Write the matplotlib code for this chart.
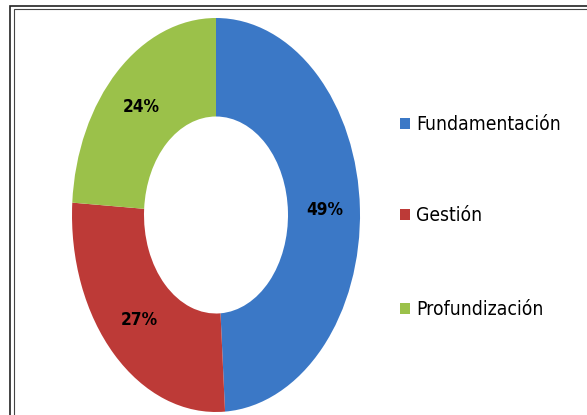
import numpy as np
import matplotlib.pyplot as plt
from matplotlib.patches import Rectangle

# Data
categorias = ["Fundamentación", "Gestión", "Profundización"]
porcentajes = [49, 27, 24]
colores = ["#3B78C6", "#BD3A37", "#9BC14A"]

plt.rcParams["font.family"] = ["DejaVu Sans"]

fig = plt.figure(figsize=(5.87, 4.15), dpi=100)
W, H = 587, 415

# double border (the frame is cut on the right and bottom)
fig.patches.append(Rectangle((10 / W, -0.1), 1.2, (H - 6) / H + 0.1, transform=fig.transFigure,
                             fill=False, edgecolor="#222222", linewidth=1.2))
fig.patches.append(Rectangle((13.5 / W, -0.1), 1.2, (H - 9.5) / H + 0.1, transform=fig.transFigure,
                             fill=False, edgecolor="#444444", linewidth=0.8))

ax = fig.add_axes([72 / W, 3 / H, 288 / W, 394 / H])
wedges, _ = ax.pie(porcentajes, colors=colores, startangle=90, counterclock=False,
                   radius=1.0, wedgeprops=dict(width=0.50, edgecolor="none"))
ax.set_aspect("auto")
ax.set_xlim(-1, 1)
ax.set_ylim(-1, 1)
ax.axis("off")

renderer = fig.canvas.get_renderer()


def ajustar(t, ancho):
    # shrink/grow the font so the text takes the width seen in the reference
    w = t.get_window_extent(renderer).width
    t.set_fontsize(t.get_fontsize() * ancho / w)


# data labels
for w, p in zip(wedges, porcentajes):
    ang = np.deg2rad((w.theta1 + w.theta2) / 2)
    r = 0.755
    t = ax.text(r * np.cos(ang), r * np.sin(ang), f"{p}%", ha="center", va="center",
                fontsize=14, fontweight="bold", fontstretch="condensed", color="black")
    ajustar(t, 37)

# legend
etiquetas = []
leg_y = [124, 215, 309]
for nombre, color, yy in zip(categorias, colores, leg_y):
    fig.patches.append(Rectangle((400 / W, 1 - (yy + 5) / H), 10 / W, 11 / H,
                                 transform=fig.transFigure, facecolor=color, edgecolor="none"))
    t = fig.text(416 / W, 1 - yy / H, nombre, ha="left", va="center", fontsize=15,
                 fontstretch="condensed", color="black")
    etiquetas.append(t)
ajustar(etiquetas[0], 145)
for t in etiquetas[1:]:
    t.set_fontsize(etiquetas[0].get_fontsize())

fig.savefig("out.png", dpi=100)
